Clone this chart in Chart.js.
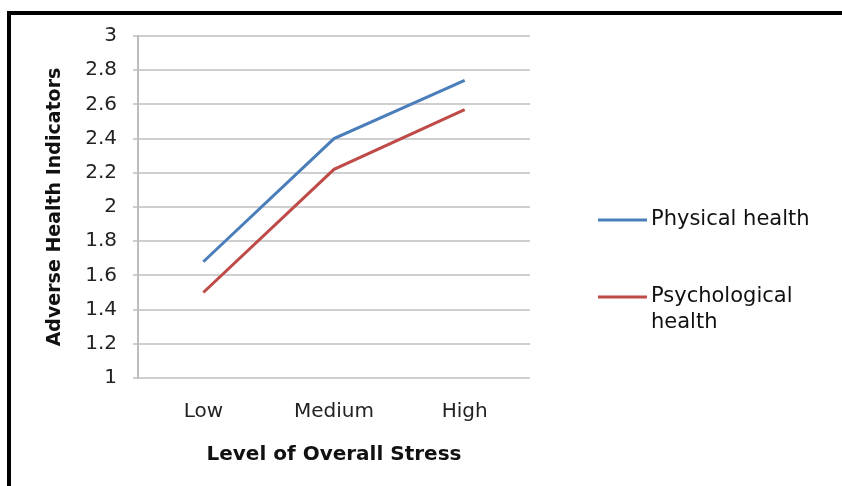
<!DOCTYPE html>
<html>
<head>
<meta charset="utf-8">
<script src="https://cdn.jsdelivr.net/npm/chart.js@4.4.1/dist/chart.umd.min.js"></script>
<style>
  body { margin: 0; background: #fff; }
  .frame { position: absolute; left: 7px; top: 11px; width: 842px; height: 486px;
           border-top: 4px solid #000; border-left: 4px solid #000; }
  #wrap { position: absolute; left: 0; top: 0; width: 842px; height: 486px; }
</style>
</head>
<body>
<div class="frame"></div>
<div id="wrap"><canvas id="mycanvas" width="842" height="486"></canvas></div>
<script>
var stressLevels = ['Low', 'Medium', 'High'];
var physicalHealth = [1.68, 2.40, 2.74];
var psychologicalHealth = [1.50, 2.22, 2.57];
var seriesNames = ['Physical health', ['Psychological', 'health']];
var yTicks = [1, 1.2, 1.4, 1.6, 1.8, 2, 2.2, 2.4, 2.6, 2.8, 3];

var FONT = 'DejaVu Sans';

// legend on the right, with wrapped names
var sideLegend = {
  id: 'sideLegend',
  afterDraw: function (chart) {
    var ctx = chart.ctx;
    var area = chart.chartArea;
    var x0 = area.right + 68;
    var ys = [area.top + 184, area.top + 261];
    ctx.save();
    chart.data.datasets.forEach(function (ds, i) {
      var y = ys[i];
      ctx.strokeStyle = ds.borderColor;
      ctx.lineWidth = 3;
      ctx.beginPath();
      ctx.moveTo(x0, y);
      ctx.lineTo(x0 + 49, y);
      ctx.stroke();
      ctx.fillStyle = '#111';
      ctx.font = '21px "' + FONT + '"';
      ctx.textBaseline = 'middle';
      ctx.textAlign = 'left';
      var lines = [].concat(seriesNames[i]);
      lines.forEach(function (t, j) {
        ctx.fillText(t, x0 + 53, y + j * 26);
      });
    });
    ctx.restore();
  }
};

var chartdata = {
  labels: stressLevels,
  datasets: [
    {
      label: 'Physical health',
      data: physicalHealth,
      borderColor: '#4a7ebb',
      backgroundColor: '#4a7ebb',
      borderWidth: 3,
      pointRadius: 0,
      tension: 0
    },
    {
      label: 'Psychological health',
      data: psychologicalHealth,
      borderColor: '#be4b48',
      backgroundColor: '#be4b48',
      borderWidth: 3,
      pointRadius: 0,
      tension: 0
    }
  ]
};

var ctx = document.getElementById('mycanvas');
var lineGraph = new Chart(ctx, {
  type: 'line',
  data: chartdata,
  plugins: [sideLegend],
  options: {
    responsive: false,
    animation: false,
    layout: { padding: { left: 0, right: 312, top: 36, bottom: 0 } },
    plugins: { legend: { display: false }, tooltip: { enabled: false } },
    scales: {
      x: {
        offset: true,
        grid: { display: false },
        border: { display: false },
        ticks: { color: '#222', font: { family: FONT, size: 20 }, padding: 14 },
        title: {
          display: true,
          text: 'Level of Overall Stress',
          color: '#111',
          font: { family: FONT, size: 20, weight: 'bold' },
          padding: { top: 0, bottom: 19 }
        },
        afterFit: function (s) { s.height = 108; }
      },
      y: {
        min: 1,
        max: 3,
        afterBuildTicks: function (s) {
          s.ticks = yTicks.map(function (v) { return { value: v }; });
        },
        grid: { color: '#cfcfcf', lineWidth: 2, tickLength: 5, drawTicks: true },
        border: { color: '#bdbdbd', width: 2 },
        ticks: {
          color: '#222',
          font: { family: FONT, size: 20 },
          padding: 16,
          callback: function (v) { return Math.round(v * 10) / 10; }
        },
        title: {
          display: true,
          text: 'Adverse Health Indicators',
          color: '#111',
          font: { family: FONT, size: 19, weight: 'bold' },
          padding: { top: 44, bottom: 0 }
        },
        afterFit: function (s) { s.width = 138; }
      }
    }
  }
});
</script>
</body>
</html>
